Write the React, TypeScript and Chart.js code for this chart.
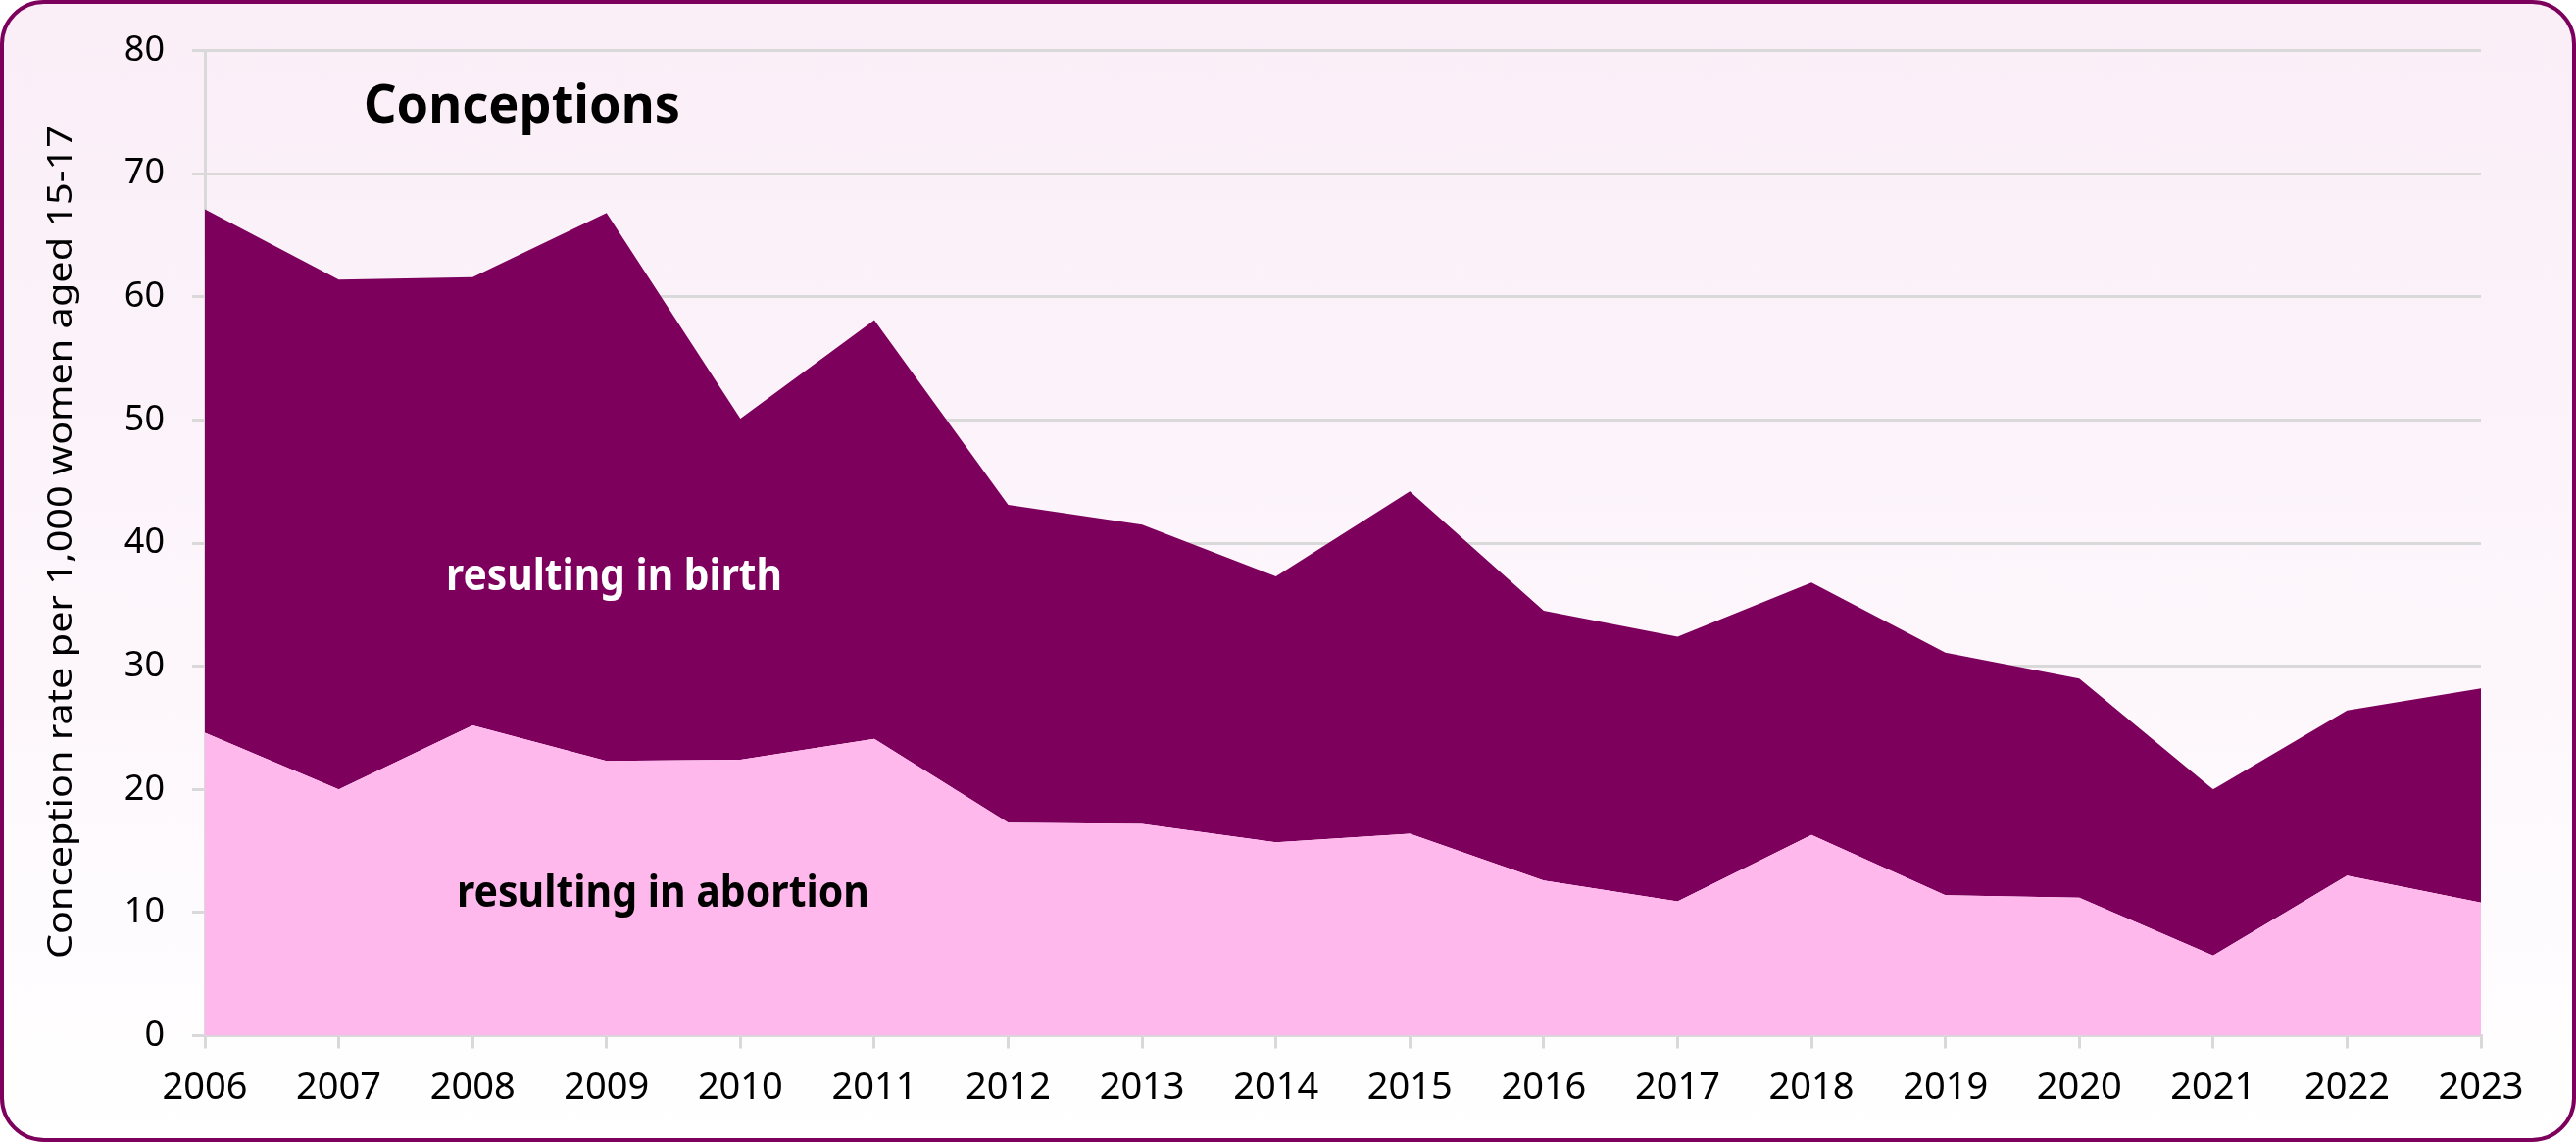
import React, { useEffect, useRef } from "react";
import { Chart, registerables } from "chart.js";

Chart.register(...registerables);

// ---- data ----
const years = [
  "2006", "2007", "2008", "2009", "2010", "2011", "2012", "2013", "2014",
  "2015", "2016", "2017", "2018", "2019", "2020", "2021", "2022", "2023",
];
// conceptions resulting in abortion (per 1,000 women aged 15-17)
const abortionRate = [
  24.6, 20.0, 25.2, 22.3, 22.4, 24.1, 17.3, 17.2, 15.7,
  16.4, 12.6, 10.9, 16.3, 11.4, 11.2, 6.5, 13.0, 10.8,
];
// conceptions resulting in birth (stacked on top of abortion)
const birthRate = [
  42.5, 41.4, 36.4, 44.5, 27.7, 34.0, 25.8, 24.3, 21.6,
  27.8, 21.9, 21.5, 20.5, 19.7, 17.8, 13.5, 13.4, 17.4,
];
const yMin = 0;
const yMax = 80;
const yStep = 10;

const titleText = "Conceptions";
const birthLabel = "resulting in birth";
const abortionLabel = "resulting in abortion";
const yAxisTitle = "Conception rate per 1,000 women aged 15-17";

// ---- styles ----
const W = 2628;
const H = 1165;
const DARK = "#7C005C";
const LIGHT = "#FFB8EC";
const GRID = "#D9D9D9";
const FONT = "'Noto Sans', 'Open Sans', sans-serif";

function drawFitted(
  ctx: CanvasRenderingContext2D,
  text: string,
  x: number,
  y: number,
  font: string,
  targetW: number,
  align: CanvasTextAlign,
  color: string,
  rotate = 0
) {
  ctx.save();
  ctx.font = font;
  const w = ctx.measureText(text).width;
  const sx = targetW / w;
  ctx.translate(x, y);
  if (rotate) ctx.rotate(rotate);
  ctx.scale(sx, 1);
  ctx.textAlign = align;
  ctx.textBaseline = "alphabetic";
  ctx.fillStyle = color;
  ctx.fillText(text, 0, 0);
  ctx.restore();
}

const textPlugin = {
  id: "textPlugin",
  afterDraw(chart: any) {
    const ctx: CanvasRenderingContext2D = chart.ctx;
    drawFitted(ctx, titleText, 371, 125, `bold 54px ${FONT}`, 323, "left", "#000");
    drawFitted(ctx, birthLabel, 455, 602, `bold 44px ${FONT}`, 343, "left", "#FFFFFF");
    drawFitted(ctx, abortionLabel, 466, 925, `bold 44px ${FONT}`, 421, "left", "#000");
    drawFitted(ctx, yAxisTitle, 73, 553, `34px ${FONT}`, 850, "center", "#000", -Math.PI / 2);
  },
};

export default function App() {
  const ref = useRef<HTMLCanvasElement | null>(null);

  useEffect(() => {
    document.body.style.margin = "0";
    document.body.style.overflow = "hidden";
    if (!ref.current) return;
    const chart = new Chart(ref.current, {
      type: "line",
      data: {
        labels: years,
        datasets: [
          {
            label: "resulting in abortion",
            data: abortionRate,
            backgroundColor: LIGHT,
            borderWidth: 0,
            pointRadius: 0,
            fill: "origin",
            tension: 0,
          },
          {
            label: "resulting in birth",
            data: birthRate,
            backgroundColor: DARK,
            borderWidth: 0,
            pointRadius: 0,
            fill: "-1",
            tension: 0,
          },
        ],
      },
      options: {
        responsive: false,
        animation: false,
        devicePixelRatio: 1,
        layout: { padding: { left: 0, right: 97, top: 51.5, bottom: 0 } },
        plugins: {
          legend: { display: false },
          tooltip: { enabled: false },
          title: { display: false },
        },
        scales: {
          x: {
            type: "category",
            offset: false,
            grid: {
              drawOnChartArea: false,
              drawTicks: true,
              tickLength: 13,
              color: GRID,
              lineWidth: 3,
            },
            border: { display: true, color: GRID, width: 3 },
            ticks: {
              autoSkip: false,
              maxRotation: 0,
              minRotation: 0,
              padding: 18,
              color: "#000",
              font: { family: FONT, size: 38 },
            },
            afterFit: (scale: any) => {
              scale.height = 108.5;
            },
          },
          y: {
            stacked: true,
            min: yMin,
            max: yMax,
            ticks: {
              stepSize: yStep,
              padding: 28,
              color: "#000",
              font: { family: FONT, size: 36 },
            },
            grid: {
              color: GRID,
              lineWidth: 3,
              tickLength: 13,
              drawTicks: true,
            },
            border: { display: true, color: GRID, width: 3 },
            afterFit: (scale: any) => {
              scale.width = 209;
            },
          },
        },
      },
      plugins: [textPlugin],
    });
    return () => chart.destroy();
  }, []);

  return (
    <div style={{ position: "relative", width: W, height: H }}>
      <div
        style={{
          position: "absolute",
          left: 0,
          top: 0,
          width: W,
          height: H,
          boxSizing: "border-box",
          border: `4px solid ${DARK}`,
          borderRadius: 45,
          background: "linear-gradient(to bottom, #FAEEF7 0%, #FDF7FC 60%, #FFFFFF 100%)",
        }}
      />
      <canvas
        ref={ref}
        width={W}
        height={H}
        style={{ position: "absolute", left: 0, top: 0, width: W, height: H }}
      />
    </div>
  );
}
